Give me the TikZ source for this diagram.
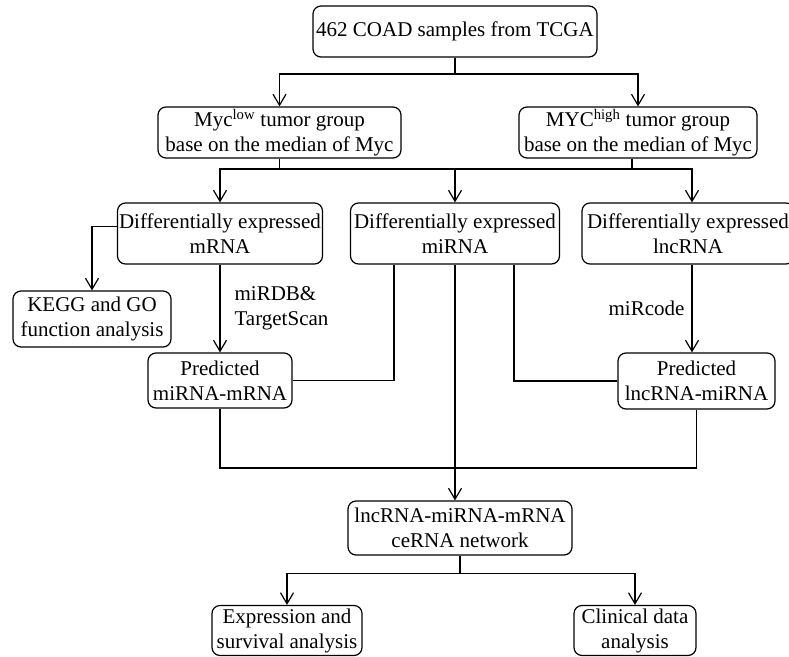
\documentclass[tikz,border=0pt]{standalone}
\usepackage{fontspec}
\setmainfont{Liberation Serif}
\usetikzlibrary{arrows.meta,positioning}
\tikzset{rbox/.style={draw=black,line width=1.2pt,rounded corners=8pt,align=center,inner sep=0pt,font=\fontsize{21}{25}\selectfont}}
\tikzset{link/.style={line width=1.2pt}}
\tikzset{flow/.style={line width=1.2pt,-{Straight Barb[length=11pt,width=13pt]}}}
\tikzset{tool/.style={font=\fontsize{21}{25}\selectfont,align=left,inner sep=4pt}}

\begin{document}
\begin{tikzpicture}[x=1pt,y=-1pt]
% \draw[help lines] (0,0) grid (789,656);
\useasboundingbox (0,0) rectangle (789,656);
\node (coad) [rbox,minimum width=284pt,minimum height=51pt] at (455,31.5) {462 COAD samples from TCGA};
\node (myclow) [rbox,minimum width=243pt,minimum height=51pt] at (279.5,132.5) {Myc\textsuperscript{low} tumor group\\base on the median of Myc};
\node (mychigh) [rbox,minimum width=238pt,minimum height=51pt] at (638,132.5) {MYC\textsuperscript{high} tumor group\\base on the median of Myc};
\node (demrna) [rbox,minimum width=205pt,minimum height=61pt] at (220,233.5) {Differentially expressed\\mRNA};
\node (demirna) [rbox,minimum width=209pt,minimum height=61pt] at (455,233.5) {Differentially expressed\\miRNA};
\node (delncrna) [rbox,minimum width=212pt,minimum height=61pt] at (688,233.5) {Differentially expressed\\lncRNA};
\node (kegg) [rbox,minimum width=158pt,minimum height=56pt] at (92,319) {KEGG and GO\\function analysis};
\node (predmm) [rbox,minimum width=144pt,minimum height=55pt] at (220,380.5) {Predicted\\miRNA-mRNA};
\node (predlm) [rbox,minimum width=157pt,minimum height=56pt] at (696.5,381) {Predicted\\lncRNA-miRNA};
\node (network) [rbox,minimum width=224pt,minimum height=54pt] at (460,528) {lncRNA-miRNA-mRNA\\ceRNA network};
\node (expr) [rbox,minimum width=150pt,minimum height=50pt] at (287,630.5) {Expression and\\survival analysis};
\node (clinical) [rbox,minimum width=122pt,minimum height=50pt] at (635,630.5) {Clinical data\\analysis};
%
\coordinate (j1) at (455,74);
\draw[link] (coad) -- (j1);
\draw[flow] (j1) -| (myclow);
\draw[flow] (j1) -| (mychigh);
%
\coordinate (j2) at (455,169);
\draw[link] (myclow.south) -- (myclow.south |- j2);
\draw[link] ([xshift=-6pt]mychigh.south) -- ([xshift=-6pt]mychigh.south |- j2);
\draw[flow] (j2) -| ([xshift=4pt]delncrna.north);
\draw[flow] (j2) -| (demrna);
\draw[flow] (j2) -- (demirna);
%
\draw[flow] ([yshift=7pt]demrna.west) -| (kegg);
\draw[flow] (demrna) -- node[tool,right=10pt] {miRDB\&\\TargetScan} (predmm);
\draw[link] ([xshift=-61pt]demirna.south) |- (predmm.east);
\draw[link] ([xshift=59pt]demirna.south) |- (predlm.west);
\draw[flow] ([xshift=4pt]delncrna.south) -- node[tool,left=3pt] {miRcode} ([xshift=4pt]delncrna.south |- predlm.north);
%
\coordinate (j3) at (455,468);
\draw[link] (predmm) |- (j3) -| (predlm);
\draw[flow] (demirna.south) -- (demirna.south |- network.north);
%
\draw[link] (network.south) -- ++(0,18) coordinate (j4);
\draw[flow] (j4) -| (expr);
\draw[flow] (j4) -| (clinical);
\end{tikzpicture}
\end{document}
